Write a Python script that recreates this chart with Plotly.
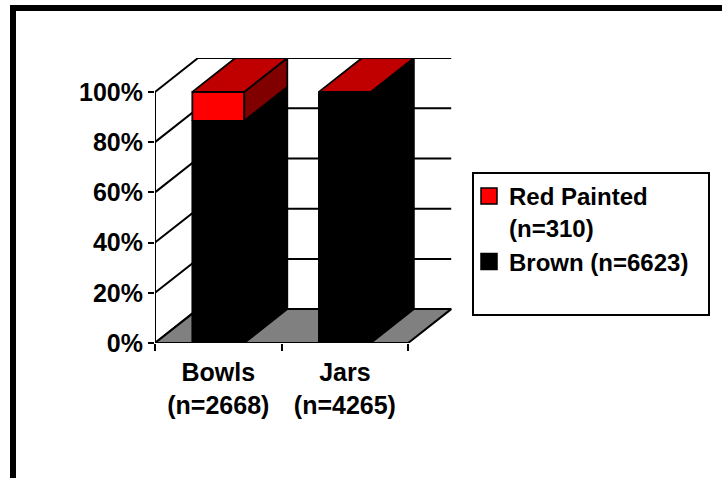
import plotly.graph_objects as go

# ---- data ----
categories = ["Bowls<br>(n=2668)", "Jars<br>(n=4265)"]
brown_pct = [88.5, 99.9]
red_pct = [11.5, 0.1]
series_names = ["Red Painted<br>(n=310)", "Brown (n=6623)"]
ytick_vals = [0, 20, 40, 60, 80, 100]
ytick_text = ["0%", "20%", "40%", "60%", "80%", "100%"]

# ---- 3D look parameters (data units) ----
DX = 0.34   # depth offset in category units
DY = 13.5   # depth offset in percent units
BW = 0.41   # bar width in category units

FONT = "Arial, 'Liberation Sans', Helvetica, sans-serif"
FS = 25

fig = go.Figure()


def add_poly(xs, ys, fill, width=1.8):
    fig.add_trace(go.Scatter(
        x=list(xs) + [xs[0]], y=list(ys) + [ys[0]], mode="lines",
        fill="toself", fillcolor=fill,
        line=dict(color="black", width=width),
        hoverinfo="skip", showlegend=False))


def add_lines(xs, ys, width=2):
    fig.add_trace(go.Scatter(
        x=xs, y=ys, mode="lines", line=dict(color="black", width=width),
        hoverinfo="skip", showlegend=False))


x0 = -0.5
x1 = len(categories) - 0.5

# walls: diagonal gridlines on the side wall + horizontal on back wall
gx, gy = [], []
for v in ytick_vals:
    gx += [x0, x0 + DX, x1 + DX, None]
    gy += [v, v + DY, v + DY, None]
add_lines(gx, gy)

# floor
add_poly([x0, x1, x1 + DX, x0 + DX], [0, 0, DY, DY], "#808080", width=2)

# front axes
add_lines([x0, x0, None, x0, x1], [100, 0, None, 0, 0], width=2)

# bars
front_cols = ["#000000", "#FF0000"]
side_cols = ["#000000", "#800000"]
top_cols = ["#000000", "#C00000"]
for i in range(len(categories)):
    segs = [brown_pct[i], red_pct[i]]
    bottom = 0.0
    left = i - BW / 2
    right = i + BW / 2
    for s, val in enumerate(segs):
        top = bottom + val
        add_poly([left, right, right, left], [bottom, bottom, top, top], front_cols[s])
        add_poly([right, right + DX, right + DX, right],
                 [bottom, bottom + DY, top + DY, top], side_cols[s])
        if s == len(segs) - 1:
            add_poly([left, right, right + DX, left + DX],
                     [top, top, top + DY, top + DY], top_cols[s])
        bottom = top

# legend entries
leg_cols = ["#FF0000", "#000000"]
for name, col in zip(series_names, leg_cols):
    fig.add_trace(go.Scatter(
        x=[None], y=[None], mode="markers", name=name,
        marker=dict(symbol="square", size=17, color=col,
                    line=dict(color="black", width=1.5))))

W, H = 722, 478
L, R, T, B = 155, 267, 58, 135
pw, ph = W - L - R, H - T - B


def px_x(p):
    return (p - L) / pw


def px_y(p):
    return (H - B - p) / ph


tick_font = dict(family=FONT, size=FS, color="black", weight="bold")

fig.update_layout(
    width=W, height=H,
    margin=dict(l=L, r=R, t=T, b=B, pad=0),
    paper_bgcolor="white", plot_bgcolor="white",
    font=dict(family=FONT, color="black", size=FS, weight="bold"),
    showlegend=True,
    legend=dict(
        x=px_x(469), y=px_y(174), xanchor="left", yanchor="top",
        bgcolor="rgba(0,0,0,0)", borderwidth=0,
        font=dict(family=FONT, size=24, color="black", weight="bold"),
        valign="top", traceorder="normal"),
    xaxis=dict(
        range=[x0, x1 + DX + 0.03], tickvals=list(range(len(categories))),
        ticktext=categories, ticks="", showgrid=False, zeroline=False,
        showline=False, ticklabelstandoff=12, tickfont=tick_font,
        minor=dict(tick0=-0.5, dtick=1, ticks="outside", ticklen=7,
                   tickwidth=2, tickcolor="black", showgrid=False),
        fixedrange=True),
    yaxis=dict(
        range=[0, 100 + DY], tickvals=ytick_vals, ticktext=ytick_text,
        ticks="outside", ticklen=6, tickwidth=2, tickcolor="black",
        showgrid=False, zeroline=False, showline=False,
        tickfont=tick_font, fixedrange=True),
    shapes=[
        dict(type="rect", xref="paper", yref="paper",
             x0=px_x(473), x1=px_x(709), y0=px_y(315), y1=px_y(173),
             line=dict(color="black", width=2), fillcolor="rgba(0,0,0,0)"),
        dict(type="line", xref="paper", yref="paper",
             x0=px_x(13), x1=px_x(740), y0=px_y(8), y1=px_y(8),
             line=dict(color="black", width=6)),
        dict(type="line", xref="paper", yref="paper",
             x0=px_x(13), x1=px_x(13), y0=px_y(5), y1=px_y(500),
             line=dict(color="black", width=6)),
    ],
)

fig.write_html("out.html",
               config={"displayModeBar": False},
               post_script="document.body.style.margin='0';document.body.style.overflow='hidden';")
